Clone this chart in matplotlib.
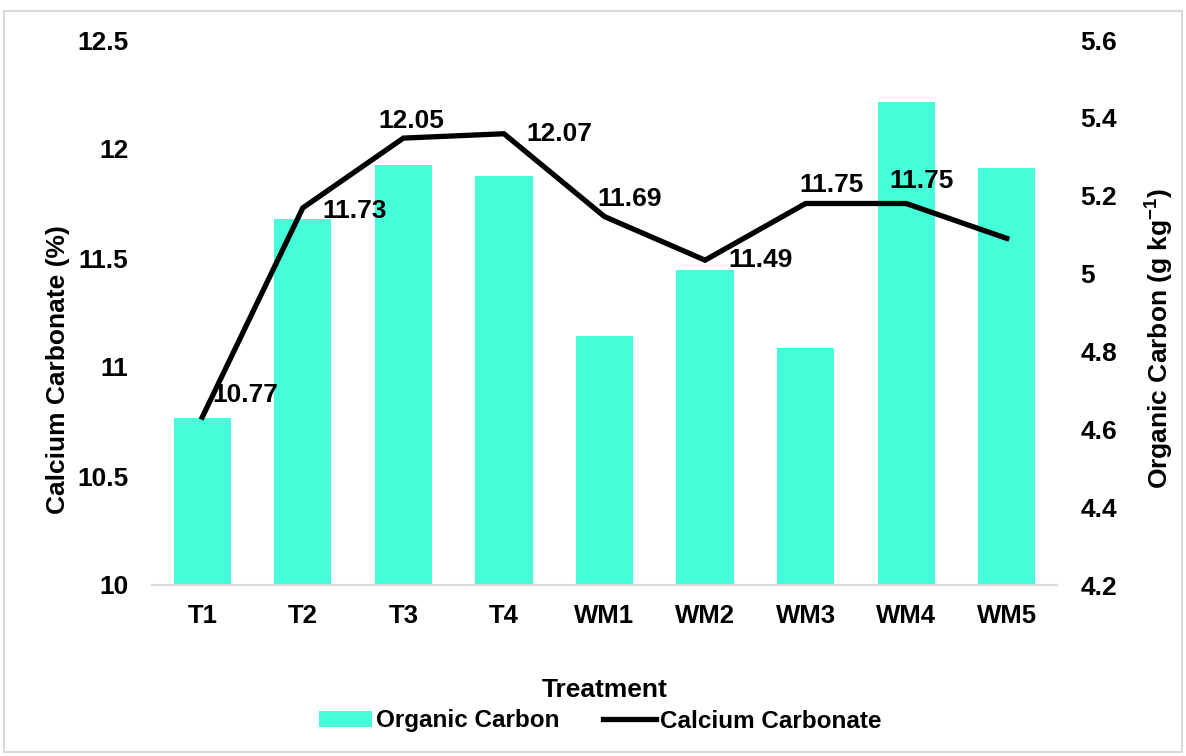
import matplotlib.pyplot as plt
from matplotlib.patches import Rectangle
import numpy as np

plt.rcParams['font.family'] = ['Liberation Sans', 'DejaVu Sans']
plt.rcParams['font.weight'] = 'bold'
plt.rcParams['mathtext.fontset'] = 'custom'
plt.rcParams['mathtext.rm'] = 'Liberation Sans:bold'
plt.rcParams['mathtext.default'] = 'rm'

# data
treatments = ['T1', 'T2', 'T3', 'T4', 'WM1', 'WM2', 'WM3', 'WM4', 'WM5']
organic_carbon = [4.63, 5.14, 5.28, 5.25, 4.84, 5.01, 4.81, 5.44, 5.27]
calcium_carbonate = [10.77, 11.73, 12.05, 12.07, 11.69, 11.49, 11.75, 11.75, 11.59]
labelled = [True, True, True, True, True, True, True, True, False]
# label offsets in pixels (dx, dy)
label_offsets = [(43, 22), (52, -3), (8, 17), (55, 0), (25, 18), (56, 0), (26, 18), (15, 23), (0, 0)]

bar_color = '#45FFDA'
fs = 19

fig = plt.figure(figsize=(11.86, 7.56), dpi=100)
ax = fig.add_axes([152/1186, 1 - 585/756, (1057-152)/1186, (585-40)/756])
ax2 = ax.twinx()

x = np.arange(len(treatments))
ax2.bar(x, organic_carbon, width=0.57, color=bar_color, label='Organic Carbon')
ax.plot(x, calcium_carbonate, color='black', lw=3.8, solid_joinstyle='miter', label='Calcium Carbonate')

ax.set_zorder(ax2.get_zorder() + 1)
ax.patch.set_visible(False)

for i, v in enumerate(calcium_carbonate):
    if labelled[i]:
        dx, dy = label_offsets[i]
        ax.annotate(f'{v:.2f}', (x[i], v), xytext=(dx, dy), textcoords='offset pixels',
                    ha='center', va='center', fontsize=fs, fontweight='bold')

ax.set_xlim(-0.5, len(treatments) - 0.5)
ax.set_ylim(10, 12.5)
ax.set_yticks([10, 10.5, 11, 11.5, 12, 12.5])
ax.set_yticklabels(['10', '10.5', '11', '11.5', '12', '12.5'])
ax2.set_ylim(4.2, 5.6)
ax2.set_yticks([4.2, 4.4, 4.6, 4.8, 5.0, 5.2, 5.4, 5.6])
ax2.set_yticklabels(['4.2', '4.4', '4.6', '4.8', '5', '5.2', '5.4', '5.6'])
ax.set_xticks(x)
ax.set_xticklabels(treatments)

for a in (ax, ax2):
    for s in ['top', 'left', 'right']:
        a.spines[s].set_visible(False)
    a.spines['bottom'].set_color('#d9d9d9')
    a.spines['bottom'].set_linewidth(1.5)
    a.tick_params(length=0, labelsize=fs)
ax.tick_params(axis='x', labelsize=18.5, pad=14)
ax.tick_params(axis='y', pad=17)
ax2.tick_params(axis='y', pad=17)

ax.set_xlabel('Treatment', fontsize=fs, fontweight='bold', va='center')
ax.xaxis.set_label_coords(0.5, -0.193)
ax.set_ylabel('Calcium Carbonate (%)', fontsize=fs, fontweight='bold', va='center')
ax.yaxis.set_label_coords(-0.104, 0.396)
ax2.set_ylabel(r'Organic Carbon (g kg$^{-1}$)', fontsize=fs, fontweight='bold', va='center', rotation=90)
ax2.yaxis.set_label_coords(1.114, 0.453)

h1, l1 = ax2.get_legend_handles_labels()
h2, l2 = ax.get_legend_handles_labels()
fig.legend(h1 + h2, l1 + l2, loc='center', bbox_to_anchor=(600/1186, 1 - 721/756), ncol=2,
           frameon=False, fontsize=17.5, handlelength=2.2, handleheight=0.6,
           handletextpad=0.15, columnspacing=1.8)

fig.patches.append(Rectangle((4/1186, 4/756), 1178/1186, 741/756, transform=fig.transFigure,
                             fill=False, edgecolor='#d9d9d9', lw=1.5))

fig.savefig('out.png', dpi=100, facecolor='white')
